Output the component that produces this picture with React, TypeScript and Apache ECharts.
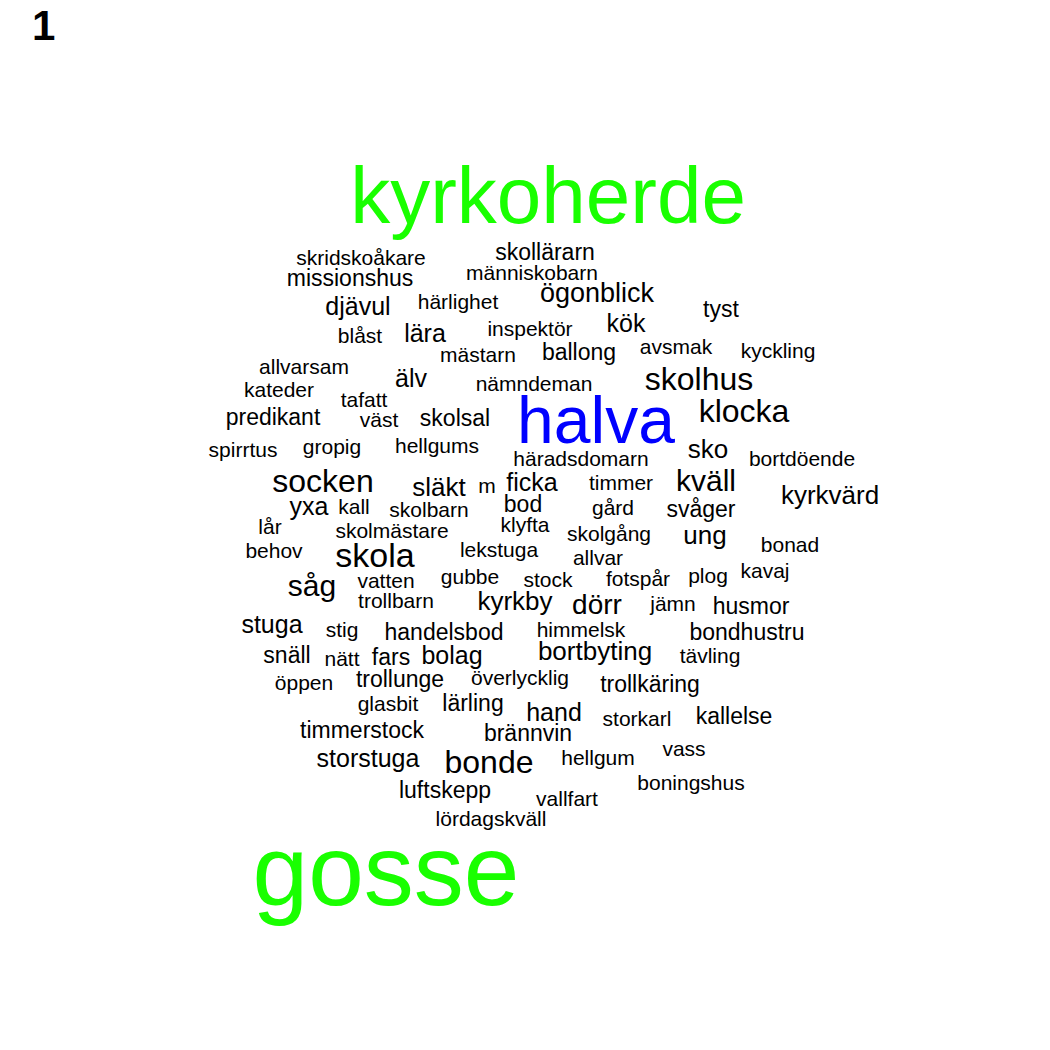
import { useEffect, useRef } from "react";
import * as echarts from "echarts";

// word cloud: word, centre x, centre y (page pixels), font size
const words = [
  "kyrkoherde", "gosse", "halva",
  "skridskoåkare", "skollärarn", "missionshus", "människobarn", "djävul", "härlighet", "ögonblick", "tyst",
  "blåst", "lära", "inspektör", "kök", "mästarn", "ballong", "avsmak", "kyckling", "allvarsam", "älv",
  "nämndeman", "skolhus", "kateder", "tafatt", "predikant", "väst", "skolsal", "klocka", "spirrtus", "gropig",
  "hellgums", "sko", "häradsdomarn", "bortdöende", "socken", "släkt", "m", "ficka", "timmer", "kväll",
  "kyrkvärd", "yxa", "kall", "skolbarn", "bod", "gård", "svåger", "lår", "skolmästare", "klyfta",
  "skolgång", "ung", "behov", "skola", "lekstuga", "bonad", "allvar", "såg", "vatten", "gubbe",
  "stock", "fotspår", "plog", "kavaj", "trollbarn", "kyrkby", "dörr", "jämn", "husmor", "stuga",
  "stig", "handelsbod", "himmelsk", "bondhustru", "snäll", "nätt", "fars", "bolag", "bortbyting", "tävling",
  "öppen", "trollunge", "överlycklig", "trollkäring", "glasbit", "lärling", "hand", "storkarl", "kallelse", "timmerstock",
  "brännvin", "storstuga", "bonde", "hellgum", "vass", "boningshus", "luftskepp", "vallfart", "lördagskväll",
];
const xs = [
  548, 386, 596,
  361, 545, 350, 532, 358, 458, 597, 721,
  360, 425, 530, 626, 478, 579, 676, 778, 304, 411,
  534, 699, 279, 364, 273, 379, 455, 744, 243, 332,
  437, 708, 581, 802, 323, 439, 487, 532, 621, 706,
  830, 309, 354, 429, 523, 613, 701, 270, 392, 525,
  609, 705, 274, 375, 499, 790, 598, 312, 386, 470,
  548, 638, 708, 765, 396, 515, 597, 673, 751, 272,
  342, 444, 581, 747, 287, 342, 391, 452, 595, 710,
  304, 400, 520, 650, 388, 473, 554, 637, 734, 362,
  528, 368, 489, 598, 684, 691, 445, 567, 491,
];
const ys = [
  195, 870, 420,
  257, 252, 278, 272, 306, 301, 293, 309,
  335, 333, 328, 323, 354, 352, 346, 350, 366, 378,
  383, 379, 389, 399, 417, 419, 418, 411, 449, 446,
  445, 449, 458, 458, 481, 487, 485, 482, 482, 480,
  495, 506, 506, 509, 504, 507, 509, 526, 530, 524,
  533, 535, 550, 555, 549, 544, 557, 585, 580, 576,
  579, 578, 575, 570, 600, 601, 604, 603, 606, 624,
  629, 632, 629, 632, 655, 658, 657, 655, 651, 655,
  682, 679, 677, 684, 703, 703, 712, 718, 716, 730,
  733, 758, 762, 757, 748, 782, 790, 798, 818,
];
const sizes = [
  80, 100, 66,
  21, 23, 23, 21, 25, 21, 27, 23,
  21, 25, 21, 25, 21, 23, 21, 21, 21, 25,
  21, 32, 21, 21, 23, 21, 23, 32, 21, 21,
  21, 26, 21, 21, 32, 26, 21, 25, 21, 30,
  26, 25, 21, 21, 23, 21, 23, 21, 21, 21,
  21, 26, 21, 34, 21, 21, 21, 30, 21, 21,
  21, 21, 21, 21, 21, 26, 28, 21, 23, 25,
  21, 23, 21, 23, 23, 21, 23, 25, 26, 21,
  21, 23, 21, 23, 21, 23, 25, 21, 23, 23,
  23, 25, 32, 21, 21, 21, 23, 21, 21,
];
const colors = ["#19ff00", "#19ff00", "#0000ff"];

export default function App() {
  const ref = useRef<HTMLDivElement>(null);

  useEffect(() => {
    if (!ref.current) return;
    const chart = echarts.init(ref.current, null, { renderer: "svg" });
    chart.setOption({
      animation: false,
      backgroundColor: "#ffffff",
      grid: { left: 0, right: 0, top: 0, bottom: 0 },
      xAxis: { type: "value", min: 0, max: 1050, show: false },
      yAxis: { type: "value", min: 0, max: 1050, inverse: true, show: false },
      graphic: [
        {
          type: "text",
          left: 32,
          top: 4,
          style: { text: "1", fontSize: 42, fontWeight: "bold", fill: "#000", fontFamily: "Liberation Sans" },
        },
      ],
      series: [
        {
          type: "scatter",
          symbolSize: 1,
          itemStyle: { color: "rgba(0,0,0,0)", opacity: 1 },
          data: words.map((w, i) => ({
            name: w,
            value: [xs[i], ys[i]],
            label: {
              show: true,
              position: "inside",
              formatter: w,
              fontSize: sizes[i],
              color: colors[i] ?? "#000000",
              opacity: 1,
              fontFamily: "Liberation Sans",
            },
          })),
        },
      ],
    });
    return () => chart.dispose();
  }, []);

  return (
    <div
      ref={ref}
      style={{ position: "absolute", left: 0, top: 0, width: "1050px", height: "1050px" }}
    />
  );
}
